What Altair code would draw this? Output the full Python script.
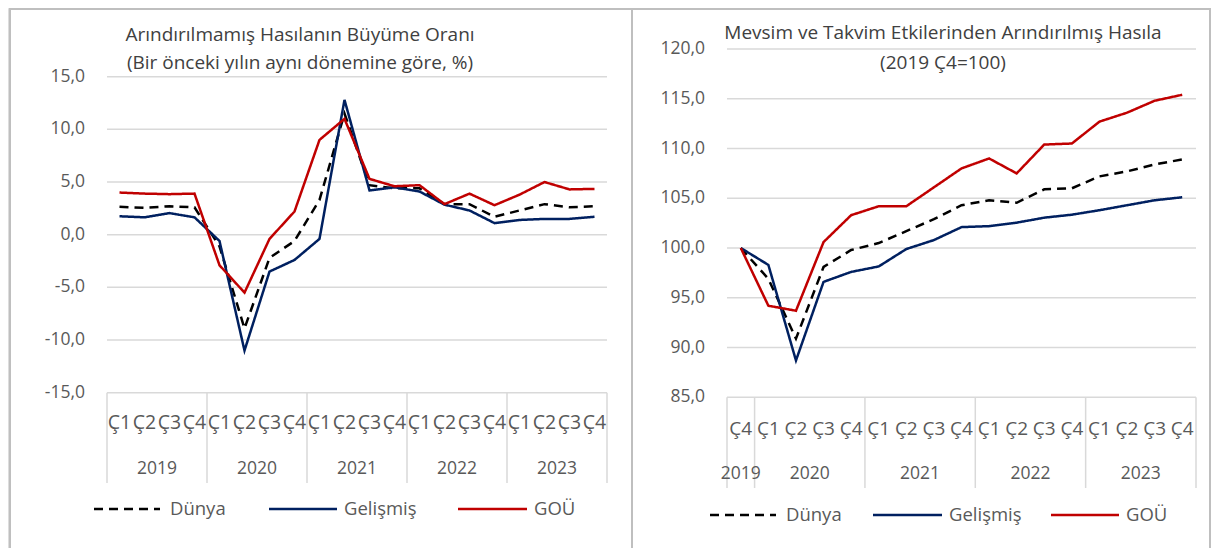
import altair as alt
import pandas as pd

# ---------------- data ----------------
series = ["Dünya", "Gelişmiş", "GOÜ"]
quarters = ["Ç1", "Ç2", "Ç3", "Ç4"]
years = ["2019", "2020", "2021", "2022", "2023"]

# Left: unadjusted output growth (yoy, %), 2019 Ç1 - 2023 Ç4
left_dunya = [2.65, 2.55, 2.7, 2.6, -1.1, -8.9, -2.2, -0.6, 3.3, 11.5,
              4.7, 4.4, 4.4, 2.9, 2.9, 1.7, 2.3, 2.9, 2.6, 2.7]
left_gelismis = [1.75, 1.65, 2.05, 1.65, -0.6, -11.0, -3.5, -2.4, -0.4, 12.8,
                 4.2, 4.5, 4.1, 2.85, 2.3, 1.1, 1.4, 1.5, 1.5, 1.7]
left_gou = [4.0, 3.9, 3.85, 3.9, -2.9, -5.5, -0.4, 2.2, 9.0, 11.0,
            5.3, 4.6, 4.7, 2.9, 3.9, 2.8, 3.8, 5.0, 4.3, 4.35]
left_yticks = [-15, -10, -5, 0, 5, 10, 15]
left_title = ["Arındırılmamış Hasılanın Büyüme Oranı",
              "(Bir önceki yılın aynı dönemine göre, %)"]

# Right: seasonally and calendar adjusted output (2019 Ç4=100), 2019 Ç4 - 2023 Ç4
right_dunya = [100.0, 96.9, 90.9, 98.1, 99.8, 100.5, 101.7, 102.9, 104.3,
               104.8, 104.55, 105.9, 106.0, 107.2, 107.7, 108.4, 108.9]
right_gelismis = [100.0, 98.3, 88.7, 96.6, 97.6, 98.15, 99.9, 100.8, 102.1,
                  102.2, 102.55, 103.05, 103.35, 103.8, 104.3, 104.8, 105.1]
right_gou = [100.0, 94.2, 93.7, 100.6, 103.3, 104.2, 104.2, 106.1, 108.0,
             109.0, 107.5, 110.4, 110.5, 112.7, 113.6, 114.8, 115.4]
right_yticks = [85, 90, 95, 100, 105, 110, 115, 120]
right_title = ["Mevsim ve Takvim Etkilerinden Arındırılmış Hasıla",
               "(2019 Ç4=100)"]

# ---------------- style ----------------
FONT = "Open Sans"
TXT = "#595959"
GRID = "#d9d9d9"
FRAME = "#bfbfbf"
COLORS = {"Dünya": "#000000", "Gelişmiş": "#002060", "GOÜ": "#C00000"}
DASH = {"Dünya": [9, 6], "Gelişmiş": [1, 0], "GOÜ": [1, 0]}
W, H = 1203, 540

one = pd.DataFrame({"k": [0]})


def fmt(v):
    return f"{v:.1f}".replace(".", ",")


def periods(start_offset):
    rows = []
    for y in years:
        for q in quarters:
            rows.append((y, q))
    rows = rows[start_offset:]
    return pd.DataFrame({"idx": range(len(rows)),
                         "year": [r[0] for r in rows],
                         "q": [r[1] for r in rows]})


def txt(size, **kw):
    base = dict(font=FONT, fontSize=size, color=TXT, fontWeight=400)
    base.update(kw)
    return base


def panel(per, vals, yticks, title, g):
    n = len(per)
    xs = alt.Scale(domain=[-0.5, n - 0.5], range=g["xr"], nice=False, zero=False)
    ys = alt.Scale(domain=[min(yticks), max(yticks)], range=g["yr"], nice=False, zero=False)
    X = lambda f: alt.X(f, scale=xs, axis=None)
    Y = lambda f: alt.Y(f, scale=ys, axis=None)

    grid_df = pd.DataFrame({"v": yticks, "lab": [fmt(v) for v in yticks]})
    grp = per.groupby("year", sort=False)["idx"].agg(["min", "max"]).reset_index()
    grp["mid"] = (grp["min"] + grp["max"]) / 2
    bounds = pd.DataFrame({"b": list(grp["min"] - 0.5) + [n - 0.5]})

    layers = []
    layers.append(alt.Chart(grid_df).mark_rule(color=GRID, strokeWidth=1.5).encode(
        x=alt.X(datum=-0.5, scale=xs, axis=None), x2=alt.X2(datum=n - 0.5), y=Y("v:Q")))
    layers.append(alt.Chart(grid_df).mark_text(**txt(17.5, align="right", baseline="middle")).encode(
        x=alt.value(g["lab_x"]), y=Y("v:Q"), text="lab:N"))
    layers.append(alt.Chart(bounds).mark_rule(color=GRID, strokeWidth=1.5).encode(
        x=X("b:Q"), y=alt.value(g["yr"][0]), y2=alt.value(g["div_bottom"])))
    layers.append(alt.Chart(per).mark_text(**txt(g["q_fs"], align="center", baseline="middle")).encode(
        x=X("idx:Q"), y=alt.value(g["q_y"]), text="q:N"))
    layers.append(alt.Chart(grp).mark_text(**txt(17.5, align="center", baseline="middle")).encode(
        x=X("mid:Q"), y=alt.value(g["yr_y"]), text="year:N"))

    long = pd.concat([pd.DataFrame({"idx": per["idx"], "s": s, "val": vals[s]}) for s in series])
    for s in series:
        layers.append(alt.Chart(long).transform_filter(alt.datum.s == s).mark_line(
            color=COLORS[s], strokeWidth=2.5, strokeDash=DASH[s], strokeJoin="miter").encode(
            x=X("idx:Q"), y=Y("val:Q")))

    for line, ty in zip(title, g["title_y"]):
        layers.append(alt.Chart(one).mark_text(**txt(19, text=line, align="center", baseline="middle",
                                                     color="#404040")).encode(
            x=alt.value(g["title_x"]), y=alt.value(ty)))

    for s, (a, b, t) in zip(series, g["legend"]):
        layers.append(alt.Chart(one).mark_rule(color=COLORS[s], strokeWidth=2.5,
                                               strokeDash=DASH[s]).encode(
            x=alt.value(a), x2=alt.value(b), y=alt.value(g["leg_y"])))
        layers.append(alt.Chart(one).mark_text(**txt(18.5, text=s, align="left", baseline="middle")).encode(
            x=alt.value(t), y=alt.value(g["leg_y"])))
    return layers


left_geo = dict(xr=[99, 599], yr=[384.7, 68.7], lab_x=77, q_y=415, q_fs=19.5, yr_y=461, div_bottom=475,
                title_x=292, title_y=[27, 55], leg_y=501,
                legend=[(86, 152, 162), (261, 329, 336), (450, 519, 526)])
right_geo = dict(xr=[719, 1188], yr=[389.3, 41], lab_x=697, q_y=421, q_fs=19, yr_y=466, div_bottom=480,
                 title_x=935, title_y=[25, 55], leg_y=507,
                 legend=[(702, 768, 778), (865, 934, 941), (1043, 1111, 1118)])

left_vals = {"Dünya": left_dunya, "Gelişmiş": left_gelismis, "GOÜ": left_gou}
right_vals = {"Dünya": right_dunya, "Gelişmiş": right_gelismis, "GOÜ": right_gou}

layers = []
# frame
layers.append(alt.Chart(one).mark_rule(color=FRAME, strokeWidth=2).encode(
    x=alt.value(2), x2=alt.value(W - 1), y=alt.value(1)))
for fx in [2, 624, W - 1]:
    layers.append(alt.Chart(one).mark_rule(color=FRAME, strokeWidth=2).encode(
        x=alt.value(fx), y=alt.value(0), y2=alt.value(H)))

layers += panel(periods(0), left_vals, left_yticks, left_title, left_geo)
layers += panel(periods(3), right_vals, right_yticks, right_title, right_geo)

chart = alt.layer(*layers).resolve_scale(x="independent", y="independent").properties(
    width=W, height=H, autosize=alt.AutoSizeParams(type="none"), padding=0
).configure_view(stroke=None).configure(background="white")

chart.save("out.html", embed_options={"renderer": "svg", "actions": False})
